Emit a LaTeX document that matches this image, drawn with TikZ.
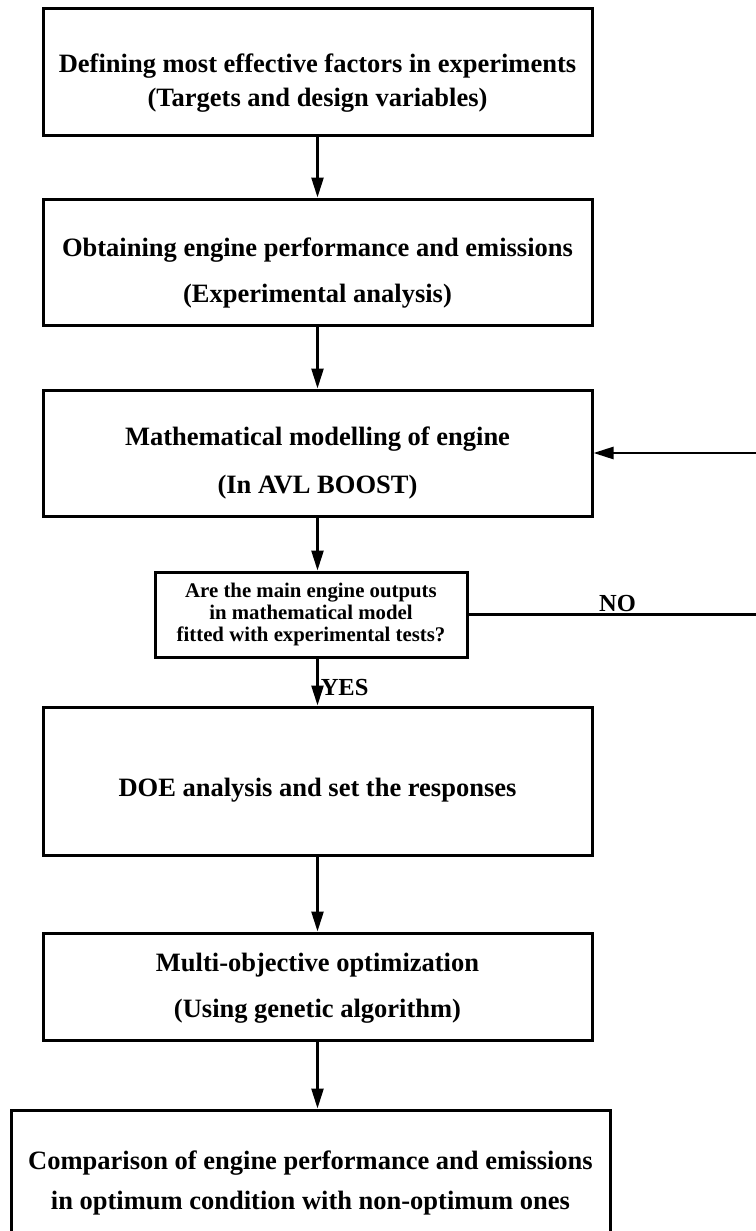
\documentclass[tikz,border=0pt]{standalone}
\usepackage{fontspec}
\setmainfont{Liberation Serif}
\usetikzlibrary{arrows.meta,positioning}

\begin{document}
\begin{tikzpicture}[x=1pt,y=-1pt,
  stepbox/.style={draw,line width=3pt,minimum width=549pt,inner sep=0pt},
  steptext/.style={align=center,inner sep=0pt,yshift=-11pt,font=\fontsize{26.5}{34}\selectfont\bfseries},
  askbox/.style={draw,line width=3pt,minimum width=312pt,minimum height=85pt,inner sep=0pt,align=center,font=\fontsize{20.8}{22}\selectfont\bfseries},
  arr/.style={line width=2.5pt,-{Triangle[length=20pt,width=12pt]}},
  answer/.style={font=\fontsize{24.5}{28}\selectfont\bfseries,inner sep=2pt}]
\useasboundingbox (0,0) rectangle (755,1231);

\node[stepbox,minimum height=126pt,label={[steptext]center:Defining most effective factors in experiments\\(Targets and design variables)}] (target) at (317.5,72) {};
\node[stepbox,minimum height=126pt,label={[steptext]center:Obtaining engine performance and emissions\\[12pt](Experimental analysis)}] (test) at (317.5,262) {};
\node[stepbox,minimum height=126pt,label={[steptext,yshift=1pt]center:Mathematical modelling of engine\\[14pt](In AVL BOOST)}] (model) at (317.5,453) {};
\node[askbox] (fit) at (311,614.5) {Are the main engine outputs\\in mathematical model\\fitted with experimental tests?};
\node[stepbox,minimum height=148pt,label={[steptext,yshift=2pt]center:DOE analysis and set the responses}] (doe) at (317.5,781) {};
\node[stepbox,minimum height=107pt,label={[steptext,yshift=9pt]center:Multi-objective optimization\\[12pt](Using genetic algorithm)}] (opt) at (317.5,986.5) {};
\node[stepbox,minimum width=599pt,minimum height=123pt,label={[steptext]center:Comparison of engine performance and emissions\\[6pt]in optimum condition with non-optimum ones}] (compare) at (310.5,1171.5) {};
\coordinate (back) at (758,614.5);

\draw[arr] (target) -- (test);
\draw[arr] (test) -- (model);
\draw[arr] (model) -- (model |- fit.north);
\draw[arr] (model |- fit.south) -- node[answer,right,pos=0.62]{YES} (doe);
\draw[arr] (doe) -- (opt);
\draw[arr] (opt) -- (opt |- compare.north);
\draw[line width=2.5pt] (fit) -- node[answer,above,pos=0.515]{NO} (back);
\draw[arr] (back) |- (model);
\end{tikzpicture}
\end{document}
